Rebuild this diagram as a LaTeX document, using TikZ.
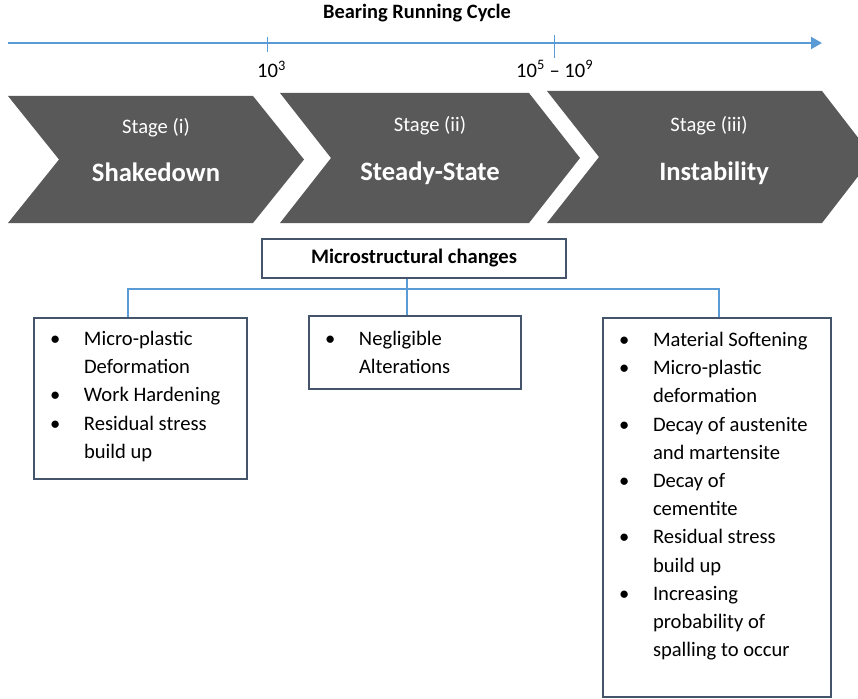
\documentclass[tikz,border=0pt]{standalone}
\usepackage{fontspec}
\setmainfont{Carlito}
\usetikzlibrary{arrows.meta}
\definecolor{chev}{HTML}{595959}
\definecolor{axisblue}{HTML}{5B9BD5}
\definecolor{boxline}{HTML}{44546A}
\newcommand{\myitem}{\makebox[50pt][l]{\hspace{16pt}\textbullet}}
\newcommand{\mycont}{\hspace*{50pt}}
\begin{document}
\begin{tikzpicture}[x=1pt,y=-1pt,
  chevron/.style={fill=chev,draw=none},
  stagelbl/.style={text=white,inner sep=0pt,anchor=base,font=\fontsize{20.6}{24}\selectfont},
  stagename/.style={text=white,inner sep=0pt,anchor=base,font=\fontsize{26.6}{30}\selectfont\bfseries},
  titlelbl/.style={inner sep=0pt,anchor=base,font=\fontsize{20.4}{24}\selectfont\bfseries},
  ticklbl/.style={inner sep=0pt,anchor=base west,font=\fontsize{20.6}{24}\selectfont},
  axisline/.style={draw=axisblue,line width=2pt,-{Triangle[length=11pt,width=12pt]}},
  tickline/.style={draw=axisblue,line width=1pt},
  mcbox/.style={draw=boxline,line width=2pt,fill=white,minimum width=304pt,minimum height=39pt,inner sep=0pt,font=\fontsize{20.6}{24}\selectfont\bfseries},
  listbox/.style={draw=boxline,line width=2pt,fill=white,inner sep=0pt,anchor=north west,align=left,font=\fontsize{20.6}{28.2}\selectfont},
  tree/.style={draw=axisblue,line width=2pt}]
\useasboundingbox (0,0) rectangle (858,698);
\clip (0,0) rectangle (858,698);
% title and axis
\node[titlelbl] (title) at (417,18.5) {Bearing Running Cycle};
\coordinate (axL) at (8,43);
\coordinate (axR) at (822,43);
\draw[axisline] (axL) -- (axR);
\coordinate (t1a) at (267,37);
\coordinate (t1b) at (267,52);
\coordinate (t2a) at (554,35);
\coordinate (t2b) at (554,58);
\draw[tickline] (t1a) -- (t1b);
\draw[tickline] (t2a) -- (t2b);
\node[ticklbl] (l1) at (257,78) {10\textsuperscript{3}};
\node[ticklbl] (l2) at (516,77.5) {10\textsuperscript{5} – 10\textsuperscript{9}};
% chevrons
\fill[chevron] (8,96) -- (253,96) -- (304,159.5) -- (253,223) -- (8,223) -- (59,159.5) -- cycle;
\fill[chevron] (280,93) -- (529,93) -- (580,158) -- (529,223) -- (280,223) -- (331,158) -- cycle;
\fill[chevron] (547,91) -- (822,91) -- (873,157) -- (822,223) -- (547,223) -- (599,157) -- cycle;
\node[stagelbl] (s1) at (156,133) {Stage (i)};
\node[stagename] (n1) at (156,181.5) {Shakedown};
\node[stagelbl] (s2) at (430,131.5) {Stage (ii)};
\node[stagename] (n2) at (430,180.5) {Steady-State};
\node[stagelbl] (s3) at (709,131.5) {Stage (iii)};
\node[stagename] (n3) at (714,180.5) {Instability};
% tree
\node[mcbox] (mc) at (414,258.5) {Microstructural changes};
\node[listbox] (lb) at (33,317) {\parbox[c][161pt][t]{213pt}{%
\rule{0pt}{27.5pt}\myitem Micro-plastic\\
\mycont Deformation\\
\myitem Work Hardening\\
\myitem Residual stress\\
\mycont build up}};
\node[listbox] (mb) at (308,315) {\parbox[c][73pt][t]{212pt}{%
\rule{0pt}{29.5pt}\myitem Negligible\\
\mycont Alterations}};
\node[listbox] (rb) at (602,317) {\parbox[c][379pt][t]{228pt}{%
\rule{0pt}{28.5pt}\myitem Material Softening\\
\myitem Micro-plastic\\
\mycont deformation\\
\myitem Decay of austenite\\
\mycont and martensite\\
\myitem Decay of\\
\mycont cementite\\
\myitem Residual stress\\
\mycont build up\\
\myitem Increasing\\
\mycont probability of\\
\mycont spalling to occur}};
\coordinate (cl) at (128,289);
\coordinate (cm) at (407,289);
\coordinate (cr) at (719,289);
\draw[tree] (cl |- lb.north) -- (cl) -- (cr) -- (cr |- rb.north);
\draw[tree] (cm |- mc.south) -- (cm |- mb.north);
\end{tikzpicture}
\end{document}
